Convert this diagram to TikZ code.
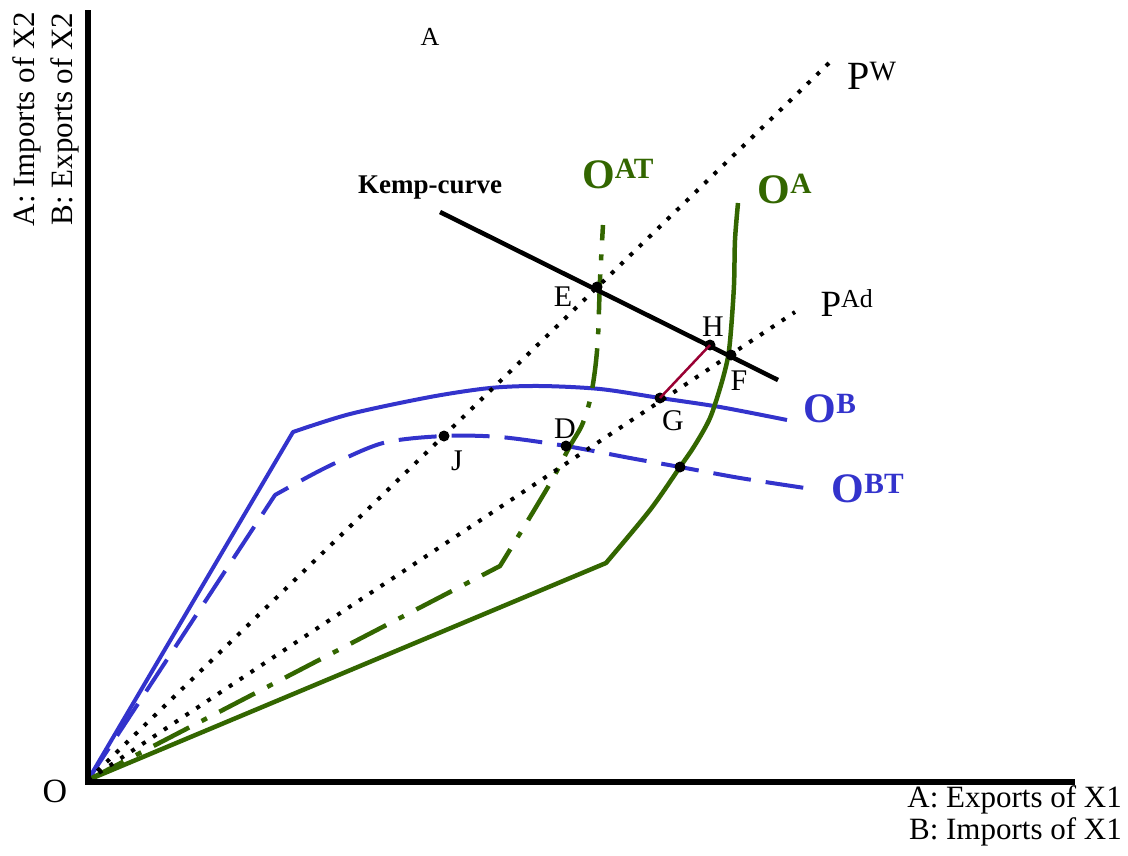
\documentclass[tikz,border=0pt]{standalone}
\usepackage{fontspec}
\setmainfont{Liberation Serif}
\usetikzlibrary{positioning}

\definecolor{offerblue}{RGB}{51,51,204}
\definecolor{offergreen}{RGB}{51,102,0}
\definecolor{gapred}{RGB}{153,0,51}

\begin{document}
\begin{tikzpicture}[
    x=1pt, y=-1pt,
    axis/.style={line width=6pt},
    price/.style={line width=4pt, dash pattern=on 4pt off 9pt},
    offerb/.style={offerblue, line width=4pt, line join=round},
    offera/.style={offergreen, line width=4.5pt, line join=round},
    kemp/.style={line width=4.5pt},
    eqpt/.style={circle, fill=black, inner sep=0pt, minimum size=11pt},
    lbl/.style={inner sep=0pt, font=\fontsize{30}{32}\selectfont},
    axlbl/.style={inner sep=0pt, font=\fontsize{31}{33}\selectfont},
    curvelbl/.style={inner sep=0pt, font=\fontsize{42}{44}\selectfont\bfseries}
  ]
    \useasboundingbox (0,0) rectangle (1128,855);

    % origin and kinks of the offer curves
    \coordinate (O) at (88,780);
    \coordinate (kinkB) at (293,432);
    \coordinate (kinkBT) at (275,495);
    \coordinate (kinkA) at (606,563);
    \coordinate (kinkAT) at (500,566);

    % offer curve of B (solid) and with tariff (dashed)
    \draw[offerb] (O) -- plot[smooth, tension=0.5] coordinates {(kinkB) (350,414) (430,397)
      (490,388) (540,386) (600,389) (660,398) (720,407) (787,420)};
    \draw[offerb, dash pattern=on 38pt off 15pt] (O) -- plot[smooth, tension=0.5] coordinates {(kinkBT)
      (327,467) (383,443) (444,436) (500,437) (566,446) (630,458) (680,467) (740,478) (805,488)};

    % offer curve of A (solid) and with tariff (dash-dot)
    \draw[offera] (O) -- plot[smooth, tension=0.5] coordinates {(kinkA) (650,510) (680,467) (695,445)
      (710,418) (721,385) (728,357) (731,330) (734,285) (735,240) (738,203)};
    \draw[offera, dash pattern=on 40pt off 14pt on 6pt off 14pt] (O) -- plot[smooth, tension=0.5]
      coordinates {(kinkAT) (530,517) (552,480) (570,446) (582,425) (590,400)
      (595,370) (598,337) (600,280) (603,225)};

    % price lines
    \coordinate (pw) at (830,62);
    \coordinate (pad) at (795,312);
    \draw[price] (O) -- (pw);
    \draw[price] (O) -- (pad);

    % Kemp-curve
    \coordinate (k1) at (440,212);
    \coordinate (k2) at (778,380);
    \draw[kemp] (k1) -- (k2);

    % points
    \node[eqpt] (E) at (597,287) {};
    \node[eqpt] (H) at (710,345) {};
    \node[eqpt] (F) at (731,355) {};
    \node[eqpt] (G) at (660,398) {};
    \node[eqpt] (D) at (566,446) {};
    \node[eqpt] (J) at (444,436) {};
    \node[eqpt] (X) at (680,467) {};
    \draw[gapred, line width=2.5pt] (H.center) -- (G.center);

    % axes
    \draw[axis] (88,10) coordinate (ytop) -- (88,782) coordinate (corner);
    \draw[axis] (85,782) -- (1075,782) coordinate (xend);

    % labels
    \node[lbl] at (563,297) {E};
    \node[lbl] at (713,327) {H};
    \node[lbl] at (739,381) {F};
    \node[lbl] at (673,421) {G};
    \node[lbl] at (565,429) {D};
    \node[lbl] at (457,461) {J};
    \node[inner sep=0pt, font=\fontsize{34}{36}\selectfont] (olbl) at (55,791) {O};
    \node[inner sep=0pt, font=\fontsize{26}{28}\selectfont] (alabel) at (430,37) {A};
    \node[inner sep=0pt, font=\fontsize{27}{29}\selectfont\bfseries] (kemplbl) at (430,188) {Kemp-curve};
    \node[inner sep=0pt, font=\fontsize{40}{42}\selectfont] (pwlbl) at (872,76) {P\textsuperscript{W}};
    \node[inner sep=0pt, font=\fontsize{37}{39}\selectfont] (padlbl) at (847,303) {P\textsuperscript{Ad}};
    \node[curvelbl, offergreen] (oatlbl) at (618,174) {O\textsuperscript{AT}};
    \node[curvelbl, offergreen] (oalbl) at (785,189) {O\textsuperscript{A}};
    \node[curvelbl, offerblue] (oblbl) at (830,409) {O\textsuperscript{B}};
    \node[curvelbl, offerblue] (obtlbl) at (868,489) {O\textsuperscript{BT}};
    \node[axlbl, anchor=east] (xa) at (1122,800) {A: Exports of X1};
    \node[axlbl, anchor=east] (xb) at (1122,832) {B: Imports of X1};
    \node[axlbl, rotate=90] (ya) at (27,119) {A: Imports of X2};
    \node[axlbl, rotate=90] (yb) at (65,119) {B: Exports of X2};

  \end{tikzpicture}
\end{document}
